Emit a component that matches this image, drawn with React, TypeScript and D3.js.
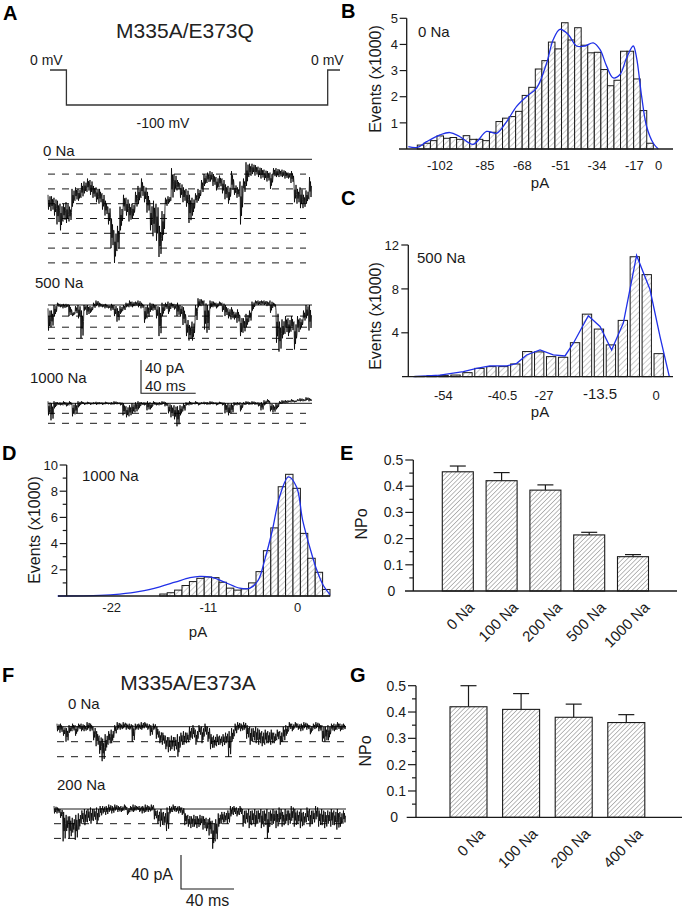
import React from 'react';
import * as d3 from 'd3';

type Bin = [number, number];
type Pt = [number, number];

const FONT = 'Arial, "Liberation Sans", Helvetica, sans-serif';

// ---------- Panel A : voltage protocol ----------
const protocolVoltages = [0, -100, 0];
const protocolTimes = [-12, 0, 191, 200];
const protocolLabels = ['0 mV', '-100 mV', '0 mV'];

// ---------- single-channel traces (envelope per bin, in open-level units) ----------
const traceA0: Bin[] = [[2.4,3.4],[2.5,3.5],[2.6,3.8],[2.8,4.4],[3.0,4.8],[3.0,4.2],[2.9,4.3],[3.2,4.2],[2.0,3.2],[1.9,2.8],
[2.0,2.8],[1.6,2.6],[1.5,2.3],[1.3,2.2],[1.4,2.4],[1.8,2.6],[1.9,2.9],[2.0,3.0],[2.3,3.4],[2.8,3.8],
[3.2,4.4],[4.0,6.0],[4.8,7.0],[4.5,6.2],[3.2,4.8],[2.4,3.6],[2.6,3.8],[3.0,4.2],[3.0,4.0],[2.2,3.3],
[1.8,3.0],[1.3,2.6],[1.8,2.9],[2.2,3.6],[3.0,4.8],[2.8,5.2],[3.0,5.5],[4.5,6.6],[3.5,5.5],[2.6,3.2],
[2.5,3.0],[0.6,2.8],[1.0,2.2],[1.4,2.1],[1.6,2.6],[1.9,2.9],[2.0,3.2],[2.4,4.3],[2.6,3.8],[2.3,3.0],
[2.0,2.8],[1.4,2.3],[1.0,1.8],[0.9,1.6],[0.8,1.5],[1.0,1.8],[1.2,2.1],[1.1,1.9],[1.3,2.3],[1.7,2.7],
[1.8,3.0],[0.8,2.2],[1.7,2.4],[1.9,2.6],[1.5,4.4],[1.3,2.3],[0.2,1.8],[0.3,1.2],[0.3,1.0],[0.4,1.1],
[0.5,1.2],[0.6,1.3],[0.7,1.4],[0.8,1.5],[0.9,2.0],[0.6,1.2],[0.6,1.2],[0.7,1.2],[0.7,1.2],[0.8,1.3],
[0.9,1.3],[0.8,1.6],[1.6,2.9],[2.0,3.0],[1.9,3.3],[2.4,3.3],[2.1,3.0],[1.2,2.7]];

const traceA500: Bin[] = [[0.3,2.3],[0.5,2.0],[0.0,1.0],[-0.2,0.2],[-0.1,0.2],[-0.1,0.3],[-0.1,0.2],[0.0,1.0],[0.6,1.0],[0.1,0.8],
[0.0,1.2],[0.5,3.0],[0.0,0.5],[0.0,0.9],[0.1,0.7],[-0.2,0.3],[-0.4,0.1],[-0.2,0.2],[-0.1,0.2],[-0.1,0.3],
[0.0,0.3],[-0.1,0.5],[0.0,1.0],[0.3,1.5],[0.1,0.8],[0.0,0.5],[-0.2,0.2],[-0.4,0.2],[-0.3,0.2],[-0.3,0.1],
[-0.4,0.2],[-0.2,0.3],[0.0,1.6],[0.0,1.2],[-0.2,0.6],[-0.1,0.5],[0.0,1.2],[0.2,2.8],[-0.2,1.0],[-0.2,0.4],
[-0.3,0.8],[-0.2,0.3],[-0.1,0.4],[-0.2,1.0],[0.0,1.0],[0.2,1.8],[1.2,2.8],[1.8,3.2],[1.5,3.2],[0.0,1.5],
[-0.6,0.2],[-0.5,0.1],[-0.4,2.2],[0.0,2.5],[-0.4,0.3],[-0.3,0.2],[-0.2,0.3],[-0.3,0.1],[-0.2,0.6],[0.0,1.0],
[0.3,1.2],[0.2,1.3],[0.6,1.3],[0.4,1.6],[1.0,2.8],[1.2,2.5],[0.8,2.0],[0.5,1.5],[-0.3,0.5],[-0.4,0.0],
[-0.4,0.0],[-0.4,0.0],[-0.4,0.0],[-0.3,0.1],[-0.4,0.7],[-0.2,0.2],[0.5,3.4],[1.5,4.2],[1.3,3.0],[1.0,2.6],
[1.2,2.8],[1.0,2.4],[1.5,4.0],[1.0,2.6],[1.2,2.2],[0.5,1.5],[0.0,1.2],[0.0,2.3]];

const traceA1000: Bin[] = [[-0.2,1.2],[0.0,1.7],[-0.2,0.5],[-0.1,0.2],[-0.1,0.2],[-0.2,0.2],[-0.1,0.3],[-0.2,0.2],[0.0,1.3],[0.0,1.1],
[-0.2,0.4],[-0.2,0.1],[-0.1,0.15],[-0.15,0.1],[-0.1,0.15],[-0.1,0.1],[-0.15,0.15],[-0.1,0.1],[-0.1,0.15],[-0.15,0.1],
[-0.1,0.1],[-0.1,0.15],[-0.2,0.1],[-0.1,0.1],[-0.1,0.2],[0.0,1.2],[0.3,1.4],[0.2,1.3],[0.0,1.0],[-0.1,0.9],
[-0.2,0.6],[-0.1,0.2],[-0.1,0.2],[-0.2,0.7],[-0.1,0.6],[-0.2,0.2],[-0.1,0.2],[-0.1,0.2],[-0.2,0.1],[-0.1,0.3],
[0.0,1.0],[0.2,1.4],[0.2,1.6],[0.3,2.3],[0.2,1.2],[0.0,0.8],[-0.1,0.2],[-0.2,0.2],[-0.1,0.1],[-0.2,0.1],
[-0.1,0.2],[-0.1,0.1],[-0.15,0.1],[-0.1,0.15],[-0.2,0.1],[-0.1,0.1],[-0.1,0.2],[-0.15,0.1],[-0.1,0.2],[0.0,1.0],
[0.0,1.2],[0.0,1.0],[-0.1,0.2],[-0.1,0.2],[-0.1,0.8],[-0.1,0.2],[-0.2,0.1],[-0.1,0.15],[-0.2,0.1],[-0.1,0.15],
[-0.1,0.3],[-0.1,0.7],[-0.3,0.2],[-0.4,0.0],[0.0,0.8],[0.2,0.9],[0.0,0.6],[-0.2,0.1],[-0.3,0.0],[-0.3,0.0],
[-0.3,-0.1],[-0.4,-0.1],[-0.3,-0.1],[-0.4,-0.2],[-0.5,-0.2],[-0.4,-0.2],[-0.6,-0.3],[-0.5,-0.2]];

const traceF0: Bin[] = [[-0.2,0.3],[-0.2,0.4],[0,0.6],[0.1,1.0],[-0.1,0.4],[-0.2,0.3],[-0.1,0.6],[-0.2,0.2],[-0.2,0.3],[-0.1,0.3],
[-0.3,0.2],[-0.2,0.3],[0.0,0.9],[0.3,1.3],[0.6,1.8],[0.8,2.3],[0.5,1.6],[0.3,1.2],[0.2,1.1],[-0.1,0.5],
[-0.3,0.2],[-0.2,0.2],[-0.3,0.1],[-0.2,0.2],[-0.2,0.2],[-0.1,1.0],[-0.2,0.2],[-0.2,0.2],[-0.3,0.2],[-0.3,0.1],
[-0.2,0.2],[-0.1,0.6],[-0.2,0.2],[0.0,0.8],[0.3,1.1],[0.4,1.2],[0.6,1.5],[0.7,1.7],[0.6,1.5],[0.7,1.6],
[0.5,2.0],[0.4,1.3],[0.3,1.2],[0.4,1.1],[0.0,0.9],[-0.1,0.8],[0.2,1.2],[-0.1,0.6],[0.0,1.1],[-0.2,0.6],
[0.0,1.0],[0.5,1.5],[0.6,1.4],[0.5,1.3],[0.6,1.2],[0.5,1.3],[0.4,1.1],[0.3,2.0],[0.1,1.0],[-0.2,0.5],
[-0.3,0.2],[-0.2,0.3],[-0.3,0.2],[-0.1,0.8],[0.0,1.2],[0.1,1.0],[0.0,1.1],[0.2,1.2],[0.3,1.3],[0.2,1.2],
[0.3,1.1],[0.2,1.2],[0.4,1.1],[0.2,0.9],[0.3,1.2],[0.0,1.0],[-0.1,0.6],[-0.3,0.2],[-0.2,0.3],[-0.3,0.1],
[-0.2,0.2],[-0.2,0.3],[-0.3,0.1],[-0.2,0.2],[-0.1,0.5],[-0.2,0.2],[-0.3,0.1],[-0.2,0.3],[-0.1,1.0],[0.0,1.0],
[-0.1,0.9],[-0.2,0.3],[-0.2,0.3],[-0.3,0.2],[-0.2,0.3],[-0.2,0.2]];

const traceF200: Bin[] = [[-0.2,0.3],[-0.1,0.3],[0.0,0.6],[0.2,2.2],[0.4,1.5],[0.5,2.0],[0.6,1.6],[0.4,2.1],[0.3,1.4],[0.1,1.0],
[0.0,1.1],[0.0,0.9],[-0.1,1.0],[0.0,0.8],[-0.1,1.0],[-0.2,0.5],[-0.2,0.3],[-0.2,0.4],[-0.3,0.2],[-0.2,0.3],
[-0.3,0.1],[-0.2,0.2],[-0.2,0.2],[-0.3,0.1],[-0.1,0.4],[-0.2,0.2],[-0.3,0.2],[-0.2,0.1],[-0.2,0.2],[-0.2,0.3],
[-0.3,0.2],[-0.2,0.2],[-0.3,0.1],[0.0,0.7],[0.1,1.0],[0.0,1.2],[0.2,1.1],[-0.1,1.5],[-0.2,0.3],[-0.3,0.2],
[-0.2,0.2],[-0.2,0.3],[-0.1,0.4],[0.3,1.1],[0.4,1.2],[0.5,1.3],[0.4,1.2],[0.5,1.3],[0.4,1.1],[0.5,1.4],
[0.6,1.5],[0.6,1.8],[0.8,2.7],[0.7,2.2],[0.3,1.2],[0.2,1.0],[0.2,0.9],[0.1,1.0],[-0.2,0.5],[-0.2,0.4],
[-0.1,0.5],[-0.2,0.4],[0.0,1.2],[0.1,1.0],[0.0,1.3],[0.1,1.1],[0.0,1.2],[0.1,1.0],[0.0,1.3],[0.1,1.2],
[0.0,2.0],[0.1,1.2],[0.0,1.0],[0.1,1.3],[-0.1,0.9],[0.2,1.2],[0.0,1.0],[0.1,1.1],[-0.2,0.8],[0.0,1.2],
[0.1,1.0],[0.0,1.3],[0.2,1.1],[-0.1,0.9],[0.0,1.2],[0.1,1.0],[-0.2,0.7],[0.1,1.2],[0.0,1.1],[0.2,1.3],
[0.1,1.0],[0.0,1.2],[0.1,1.1],[0.0,1.4],[0.2,1.2],[0.1,1.0]];

// scale bars
const scaleBarPA = 40;
const scaleBarMS = 40;

// ---------- Histograms ----------
const histB = [0.15,0.22,0.32,0.5,0.41,0.44,0.37,0.51,0.37,0.37,0.32,0.64,1.05,1.18,1.24,1.44,2.05,2.36,3.06,3.38,4.09,3.83,4.83,4.17,4.64,3.97,3.68,3.7,3.04,2.42,2.63,3.74,3.74,2.68,1.47,0.22];
const fitB: Pt[] = [[-1.37,0.09],[0,0.06],[1.42,0.28],[3.46,0.54],[4.98,0.63],[6.51,0.47],[8.54,0.18],[10.57,0.67],[12.1,0.6],[13.63,1.05],[15.15,1.63],[16.68,2.01],[18.2,2.33],[19.73,3.29],[20.74,4.19],[21.76,4.58],[23.03,4.38],[24.3,3.94],[25.57,3.94],[26.84,4.06],[27.86,3.81],[28.88,3.17],[29.89,2.72],[30.91,2.85],[31.93,3.49],[32.94,3.94],[33.45,3.49],[34.22,2.01],[34.98,0.86],[36,0.22],[36.76,0]];
const xTicksB = [-102, -85, -68, -51, -34, -17, 0];
const yTicksB = [1, 2, 3, 4, 5];

const histC = [0.03,0.08,0.12,0.15,0.37,0.76,0.92,0.92,1.16,2.29,2.26,1.83,1.77,3.1,5.7,4.34,2.9,5.13,10.93,9.3,2.1];
const fitC: Pt[] = [[-0.14,0],[2.09,0.15],[4.04,0.46],[5.16,0.76],[6.27,0.98],[7.67,0.98],[8.51,1.22],[9.34,1.98],[10.46,2.44],[11.57,1.98],[12.55,1.89],[13.25,3.05],[14.5,5.56],[15.48,4.58],[16.45,2.44],[17.43,4.89],[18.54,11.05],[19.66,7.94],[20.5,3.66],[21.28,0]];
const xTicksC = [-54, -40.5, -27, -13.5, 0];
const yTicksC = [4, 8, 12];

const histD = [0.15,0.25,0.45,0.8,1.1,1.35,1.45,1.4,1.05,0.6,0.45,0.55,1.0,1.86,3.46,5.2,8.34,9.29,8.22,4.78,2.88,1.81,0.5];
const fitD: Pt[] = [[-13.8,0],[-8.1,0.05],[-5.4,0.15],[-2.7,0.35],[0,0.7],[2.05,1.05],[4.08,1.4],[5.4,1.5],[7.05,1.42],[8.8,1.05],[10.8,0.6],[12.2,0.6],[13.3,1.2],[14.2,2.8],[15.2,5.0],[16.2,7.6],[17.4,9.1],[18.5,8.3],[19.3,5.8],[20.5,3.26],[21.2,2.0],[22.1,0.8],[23,0.1]];
const xTicksD = [-22, -11, 0];
const yTicksD = [2, 4, 6, 8, 10];
const yMinorD = [1, 3, 5, 7, 9];

// ---------- NPo bar charts ----------
const catsE = ['0 Na', '100 Na', '200 Na', '500 Na', '1000 Na'];
const npoE = [0.455, 0.421, 0.385, 0.214, 0.131];
const semE = [0.022, 0.031, 0.02, 0.01, 0.008];

const catsG = ['0 Na', '100 Na', '200 Na', '400 Na'];
const npoG = [0.42, 0.41, 0.38, 0.36];
const semG = [0.08, 0.06, 0.05, 0.03];

const npoTicks = [0, 0.1, 0.2, 0.3, 0.4, 0.5];
const npoMinor = [0.05, 0.15, 0.25, 0.35, 0.45];

// ---------- helpers ----------
const INK = '#1a1a1a';
// sub-sample sweep inside one envelope bin (drawing style only)
const SWEEP = [0, 1, 0.35, 0.8, 0.1, 0.6];

function tracePath(bins: Bin[], x0: number, x1: number, y0: number, dy: number) {
  const x = d3.scaleLinear().domain([0, bins.length]).range([x0, x1]);
  const y = d3.scaleLinear().domain([0, 1]).range([y0, y0 + dy]);
  const pts: Pt[] = [];
  bins.forEach(([t, b], i) => {
    const order = i % 2 === 0 ? SWEEP : SWEEP.map((f) => 1 - f);
    order.forEach((f, k) => pts.push([x(i + k / order.length), y(t + f * (b - t))]));
  });
  return d3.line()(pts) || '';
}

function Trace(p: { bins: Bin[]; x0: number; x1: number; y0: number; dy: number; nDash: number; dashEnd: number }) {
  const levels = d3.range(1, p.nDash + 1);
  return (
    <g>
      <line x1={p.x0} x2={p.x1} y1={p.y0} y2={p.y0} stroke={INK} strokeWidth={1} />
      {levels.map((l) => (
        <line key={l} x1={p.x0} x2={p.dashEnd} y1={p.y0 + l * p.dy} y2={p.y0 + l * p.dy} stroke={INK} strokeWidth={1} strokeDasharray="7 7" />
      ))}
      <path d={tracePath(p.bins, p.x0, p.x1, p.y0, p.dy)} fill="none" stroke="#000" strokeWidth={0.8} strokeLinejoin="round" />
    </g>
  );
}

type HistProps = {
  bars: number[]; fit: Pt[]; barFrac: number; x0: number; x1: number;
  axisX: number; axisY: number; yTop: number; yMax: number; xLine: [number, number];
  yTicks: number[]; yMinor?: number[]; xTicks: number[]; xTickPos: number[]; xTickY: number; bigTick?: number;
  label: string; labelX: number; labelY: number; yTitleX: number; yTitleY: number; xTitleX: number; xTitleY: number;
  smooth: boolean; labelRight: number;
};

function Hist(p: HistProps) {
  const n = p.bars.length;
  const xs = d3.scaleLinear().domain([0, n]).range([p.x0, p.x1]);
  const ys = d3.scaleLinear().domain([0, p.yMax]).range([p.axisY, p.yTop]);
  const xt = d3.scaleLinear().domain(p.xTicks).range(p.xTickPos);
  const line = d3.line<Pt>().x((d) => xs(d[0])).y((d) => ys(d[1]))
    .curve(p.smooth ? d3.curveCatmullRom.alpha(0.5) : d3.curveLinear);
  return (
    <g>
      {p.bars.map((v, i) => (
        <rect key={i} x={xs(i)} y={ys(v)} width={xs(i + p.barFrac) - xs(i)} height={p.axisY - ys(v)}
          fill="url(#hatchHist)" stroke={INK} strokeWidth={1} />
      ))}
      <path d={line(p.fit) || ''} fill="none" stroke="#2030e8" strokeWidth={1.3} />
      <line x1={p.xLine[0]} x2={p.xLine[1]} y1={p.axisY} y2={p.axisY} stroke={INK} strokeWidth={1.3} />
      <line x1={p.axisX} x2={p.axisX} y1={p.axisY} y2={ys(p.yMax)} stroke={INK} strokeWidth={1.3} />
      {p.yTicks.map((t) => (
        <g key={t}>
          <line x1={p.axisX - 7} x2={p.axisX} y1={ys(t)} y2={ys(t)} stroke={INK} strokeWidth={1.2} />
          <text x={p.labelRight} y={ys(t)} dy="0.36em" textAnchor="end" fontSize={13} fill={INK}>{t}</text>
        </g>
      ))}
      {(p.yMinor || []).map((t) => (
        <line key={'m' + t} x1={p.axisX - 4} x2={p.axisX} y1={ys(t)} y2={ys(t)} stroke={INK} strokeWidth={1.2} />
      ))}
      {p.xTicks.map((t) => (
        <text key={t} x={xt(t)} y={t === p.bigTick ? p.xTickY - 1 : p.xTickY} textAnchor="middle"
          fontSize={t === p.bigTick ? 15 : 13} fill={INK}>{t}</text>
      ))}
      <text x={p.xTitleX} y={p.xTitleY} textAnchor="middle" fontSize={15} fill={INK}>pA</text>
      <text transform={`translate(${p.yTitleX},${p.yTitleY}) rotate(-90)`} textAnchor="middle" fontSize={16} fill={INK}>Events (x1000)</text>
      <text x={p.labelX} y={p.labelY} fontSize={15} fill={INK}>{p.label}</text>
    </g>
  );
}

type BarProps = {
  cats: string[]; vals: number[]; errs: number[]; band: [number, number]; pad: number;
  axisX: number; axisY: number; yTop: number; xLine: [number, number]; titleX: number; titleY: number;
};

function NpoBars(p: BarProps) {
  const xb = d3.scaleBand<string>().domain(p.cats).range(p.band).paddingInner(p.pad).paddingOuter(0);
  const ys = d3.scaleLinear().domain([0, 0.5]).range([p.axisY, p.yTop]);
  return (
    <g>
      {p.cats.map((c, i) => {
        const x = xb(c) as number;
        const w = xb.bandwidth();
        const cx = x + w / 2;
        return (
          <g key={c}>
            <line x1={cx} x2={cx} y1={ys(p.vals[i])} y2={ys(p.vals[i] + p.errs[i])} stroke={INK} strokeWidth={1.2} />
            <line x1={cx - 8} x2={cx + 8} y1={ys(p.vals[i] + p.errs[i])} y2={ys(p.vals[i] + p.errs[i])} stroke={INK} strokeWidth={1.2} />
            <rect x={x} y={ys(p.vals[i])} width={w} height={p.axisY - ys(p.vals[i])} fill="url(#hatchBar)" stroke={INK} strokeWidth={1.1} />
            <text transform={`translate(${cx + 10},${p.axisY + 10}) rotate(-45)`} textAnchor="end" dy="0.7em" fontSize={15} fill={INK}>{c}</text>
          </g>
        );
      })}
      <line x1={p.xLine[0]} x2={p.xLine[1]} y1={p.axisY} y2={p.axisY} stroke={INK} strokeWidth={1.3} />
      <line x1={p.axisX} x2={p.axisX} y1={p.axisY} y2={p.yTop} stroke={INK} strokeWidth={1.3} />
      {npoTicks.map((t) => (
        <g key={t}>
          {t > 0 && <line x1={p.axisX - 8} x2={p.axisX} y1={ys(t)} y2={ys(t)} stroke={INK} strokeWidth={1.2} />}
          <text x={t === 0 ? p.axisX - 18 : p.axisX - 10} y={ys(t)} dy="0.36em" textAnchor="end" fontSize={14} fill={INK}>{t}</text>
        </g>
      ))}
      {npoMinor.map((t) => (
        <line key={t} x1={p.axisX - 4} x2={p.axisX} y1={ys(t)} y2={ys(t)} stroke={INK} strokeWidth={1.2} />
      ))}
      <text transform={`translate(${p.titleX},${p.titleY}) rotate(-90)`} textAnchor="middle" fontSize={16} fill={INK}>NPo</text>
    </g>
  );
}

function Protocol() {
  const xt = d3.scaleLinear().domain([protocolTimes[0], protocolTimes[3]]).range([50, 340]);
  const yv = d3.scaleLinear().domain([0, -100]).range([70, 105]);
  const pts: Pt[] = [];
  protocolVoltages.forEach((v, i) => {
    pts.push([xt(protocolTimes[i]), yv(v)]);
    pts.push([xt(protocolTimes[i + 1]), yv(v)]);
  });
  return (
    <g>
      <path d={d3.line()(pts) || ''} fill="none" stroke="#333" strokeWidth={1.3} />
      <text x={30} y={65} fontSize={14} fill={INK}>{protocolLabels[0]}</text>
      <text x={163} y={128} fontSize={14} textAnchor="middle" fill={INK}>{protocolLabels[1]}</text>
      <text x={311} y={65} fontSize={14} fill={INK}>{protocolLabels[2]}</text>
    </g>
  );
}

function ScaleBar(p: { x: number; y: number; pxPerPA: number; pxPerMS: number; side: 'A' | 'F' }) {
  const h = scaleBarPA * p.pxPerPA;
  const w = scaleBarMS * p.pxPerMS;
  return (
    <g>
      <path d={`M${p.x},${p.y - h}V${p.y}H${p.x + w}`} fill="none" stroke={INK} strokeWidth={1.1} />
      {p.side === 'A' ? (
        <>
          <text x={p.x + 4} y={p.y - 20} fontSize={15} fill={INK}>{scaleBarPA} pA</text>
          <text x={p.x + 4} y={p.y - 2} fontSize={15} fill={INK}>{scaleBarMS} ms</text>
        </>
      ) : (
        <>
          <text x={p.x - 8} y={p.y - 9} fontSize={16} textAnchor="end" fill={INK}>{scaleBarPA} pA</text>
          <text x={p.x + w / 2} y={p.y + 17} fontSize={16} textAnchor="middle" fill={INK}>{scaleBarMS} ms</text>
        </>
      )}
    </g>
  );
}

function PanelLetter({ x, y, t }: { x: number; y: number; t: string }) {
  return <text x={x} y={y} fontSize={20} fontWeight="bold" fill="#000">{t}</text>;
}

export default function App() {
  return (
    <svg width={682} height={914} style={{ position: 'absolute', left: 0, top: 0 }} fontFamily={FONT}>
      <defs>
        <pattern id="hatchHist" patternUnits="userSpaceOnUse" width={4} height={4} patternTransform="rotate(45)">
          <rect width={4} height={4} fill="#fff" />
          <line x1={0} y1={0} x2={0} y2={4} stroke="#9a9a9a" strokeWidth={1} />
        </pattern>
        <pattern id="hatchBar" patternUnits="userSpaceOnUse" width={3.2} height={3.2} patternTransform="rotate(45)">
          <rect width={3.2} height={3.2} fill="#fff" />
          <line x1={0} y1={0} x2={0} y2={3.2} stroke="#555" strokeWidth={0.8} />
        </pattern>
      </defs>
      <rect width={682} height={914} fill="#fff" />

      {/* Panel A */}
      <PanelLetter x={3} y={20} t="A" />
      <text x={185} y={38} fontSize={21} textAnchor="middle" fill="#222">M335A/E373Q</text>
      <Protocol />
      <text x={43} y={156} fontSize={15} fill={INK}>0 Na</text>
      <Trace bins={traceA0} x0={48} x1={312} y0={159.3} dy={14.8} nDash={7} dashEnd={306} />
      <text x={35} y={288} fontSize={15} fill={INK}>500 Na</text>
      <Trace bins={traceA500} x0={48} x1={312} y0={305} dy={11.1} nDash={4} dashEnd={312} />
      <ScaleBar x={141} y={393.3} pxPerPA={33.3 / 40} pxPerMS={54.7 / 40} side="A" />
      <text x={30} y={383} fontSize={15} fill={INK}>1000 Na</text>
      <Trace bins={traceA1000} x0={48} x1={312} y0={403.3} dy={10} nDash={2} dashEnd={306} />

      {/* Panel B */}
      <PanelLetter x={341} y={18} t="B" />
      <Hist bars={histB} fit={fitB} barFrac={1} x0={417.3} x1={653.3} axisX={406.7} axisY={149} yTop={18.3} yMax={5}
        xLine={[399, 673]} yTicks={yTicksB} xTicks={xTicksB} xTickPos={[440, 485, 522.3, 560.7, 597, 634.3, 658.7]} xTickY={170}
        label="0 Na" labelX={418} labelY={36.5} yTitleX={381} yTitleY={79} xTitleX={540} xTitleY={188} smooth={true} labelRight={398} />

      {/* Panel C */}
      <PanelLetter x={341} y={205} t="C" />
      <Hist bars={histC} fit={fitC} barFrac={0.78} x0={415} x1={666} axisX={408.3} axisY={376.7} yTop={245} yMax={12}
        xLine={[402, 673]} yTicks={yTicksC} xTicks={xTicksC} xTickPos={[443.3, 502.5, 544, 600, 656]} xTickY={399.5} bigTick={-13.5}
        label="500 Na" labelX={417} labelY={262.7} yTitleX={381} yTitleY={316} xTitleX={540} xTitleY={417} smooth={false} labelRight={399} />

      {/* Panel D */}
      <PanelLetter x={2} y={460} t="D" />
      <Hist bars={histD} fit={fitD} barFrac={1} x0={159.8} x1={330} axisX={66.7} axisY={596} yTop={465} yMax={10}
        xLine={[58, 330]} yTicks={yTicksD} yMinor={yMinorD} xTicks={xTicksD} xTickPos={[111.7, 208.3, 297.7]} xTickY={611.5}
        label="1000 Na" labelX={82} labelY={480.7} yTitleX={40} yTitleY={530} xTitleX={198} xTitleY={637} smooth={true} labelRight={58} />

      {/* Panel E */}
      <PanelLetter x={340} y={460} t="E" />
      <NpoBars cats={catsE} vals={npoE} errs={semE} band={[442.3, 648.5]} pad={0.292} axisX={413.3} axisY={591} yTop={460}
        xLine={[405, 677]} titleX={367} titleY={524} />

      {/* Panel F */}
      <PanelLetter x={2} y={682} t="F" />
      <text x={188} y={690} fontSize={21} textAnchor="middle" fill="#222">M335A/E373A</text>
      <text x={68} y={709} fontSize={15} fill={INK}>0 Na</text>
      <Trace bins={traceF0} x0={57} x1={346} y0={726.7} dy={15} nDash={2} dashEnd={346} />
      <text x={57} y={790} fontSize={15} fill={INK}>200 Na</text>
      <Trace bins={traceF200} x0={54} x1={346} y0={809} dy={14.7} nDash={2} dashEnd={346} />
      <ScaleBar x={181} y={889} pxPerPA={34 / 40} pxPerMS={53 / 40} side="F" />

      {/* Panel G */}
      <PanelLetter x={350} y={682} t="G" />
      <NpoBars cats={catsG} vals={npoG} errs={semG} band={[450, 644.8]} pad={0.2966} axisX={416} axisY={817.3} yTop={685.7}
        xLine={[406.7, 682]} titleX={371} titleY={751} />
    </svg>
  );
}
